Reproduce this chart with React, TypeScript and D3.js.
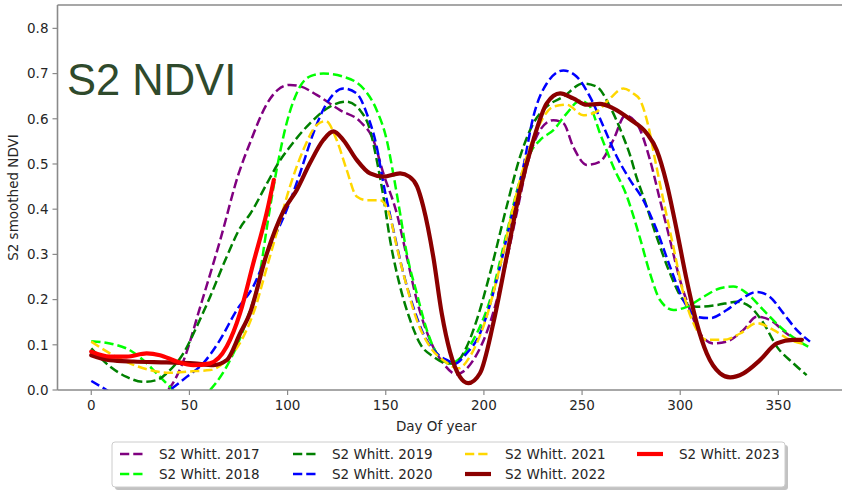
import React from "react";
import * as d3 from "d3";

// ---- data (day of year, smoothed NDVI) ----
const xTicks = [0, 50, 100, 150, 200, 250, 300, 350];
const yTicks = [0.0, 0.1, 0.2, 0.3, 0.4, 0.5, 0.6, 0.7, 0.8];

const s2017: [number, number][] = [
  [30, -0.04], [36, -0.01], [40.3, 0.007], [47.1, 0.066], [55.5, 0.184], [65.7, 0.332], [75.1, 0.479],
  [80.8, 0.546], [89.6, 0.634], [95, 0.664], [101.2, 0.675], [107, 0.671], [114.8, 0.653], [126.7, 0.619],
  [136.9, 0.594], [143.7, 0.553], [148.8, 0.479], [155.6, 0.391], [160.7, 0.295], [165.8, 0.199],
  [172.5, 0.111], [179.3, 0.059], [186, 0.035], [194.6, 0.066], [203.1, 0.148], [210, 0.258],
  [216.7, 0.391], [221.8, 0.494], [228.6, 0.575], [235.4, 0.597], [240.5, 0.59], [245.5, 0.538],
  [252.4, 0.498], [259.1, 0.505], [265.9, 0.553], [272, 0.607], [277.8, 0.59], [284.6, 0.509],
  [289.7, 0.42], [294.8, 0.332], [299.9, 0.243], [305, 0.177], [310.1, 0.125], [316.9, 0.103],
  [323.7, 0.107], [332.2, 0.133], [339, 0.162], [345.7, 0.155], [354.2, 0.125], [362.7, 0.103],
];
const s2018: [number, number][] = [
  [0, 0.108], [9.5, 0.103], [19.7, 0.088], [26.5, 0.066], [33.3, 0.037], [40.1, 0.007], [50, -0.03],
  [60.5, 0.0], [70.7, 0.066], [79.2, 0.155], [85.9, 0.258], [89.5, 0.361], [94.4, 0.487], [99.5, 0.59],
  [106.3, 0.671], [112, 0.695], [118.2, 0.7], [128.4, 0.693], [138.6, 0.667], [145.4, 0.619],
  [150.5, 0.553], [153.8, 0.479], [157.3, 0.391], [160.7, 0.302], [165.8, 0.214], [170.9, 0.133],
  [176, 0.081], [182.7, 0.059], [194.6, 0.111], [203.1, 0.199], [211.6, 0.347], [218.4, 0.465],
  [223.5, 0.524], [228.6, 0.553], [235.4, 0.575], [242.2, 0.612], [249, 0.64], [254, 0.627],
  [259.1, 0.568], [265.9, 0.494], [272.7, 0.43], [279.5, 0.336], [284.6, 0.258], [289.7, 0.199],
  [296.5, 0.177], [303.3, 0.184], [311.8, 0.206], [320.3, 0.225], [327.1, 0.229], [333.9, 0.214],
  [342.3, 0.177], [350.8, 0.14], [359.3, 0.111], [365.2, 0.096],
];
const s2019: [number, number][] = [
  [0, 0.092], [9.5, 0.052], [18, 0.029], [26.5, 0.018], [33.3, 0.022], [40.1, 0.044], [46.9, 0.081],
  [53.7, 0.14], [60.5, 0.206], [69, 0.295], [76, 0.36], [81, 0.39], [89.5, 0.457], [95, 0.5],
  [101.2, 0.538], [111.4, 0.59], [121.6, 0.627], [130.1, 0.638], [136.9, 0.619], [142, 0.575],
  [145.4, 0.509], [148.8, 0.428], [152.2, 0.332], [157.3, 0.229], [162.4, 0.155], [167.4, 0.103],
  [174.2, 0.074], [181, 0.059], [185, 0.058], [190, 0.085], [196, 0.15], [203.1, 0.258], [211.6, 0.406],
  [218.4, 0.516], [225.2, 0.59], [232, 0.627], [240.5, 0.649], [250.6, 0.678], [257.5, 0.671],
  [264.2, 0.627], [271, 0.56], [274.4, 0.52], [277.8, 0.47], [281.2, 0.428], [288, 0.339],
  [294.8, 0.258], [301.6, 0.199], [308.4, 0.184], [318.6, 0.188], [328.8, 0.195], [335.6, 0.184],
  [342.4, 0.148], [349.2, 0.096], [357.6, 0.059], [364.4, 0.033],
];
const s2020: [number, number][] = [
  [0, 0.02], [7.8, 0.0], [20, -0.035], [30, -0.03], [40, 0.0], [48.6, 0.029], [57, 0.059], [65.6, 0.111],
  [74.1, 0.177], [82.5, 0.229], [91, 0.317], [99.5, 0.398], [106.3, 0.479], [113.1, 0.568],
  [119.9, 0.634], [128.4, 0.667], [135.2, 0.656], [140.3, 0.612], [145.4, 0.538], [148.8, 0.457],
  [153.9, 0.354], [159, 0.258], [164, 0.184], [169.1, 0.125], [176, 0.081], [182.7, 0.063],
  [185, 0.058], [191, 0.08], [198, 0.125], [206.5, 0.243], [213.3, 0.369], [220.1, 0.494],
  [225.2, 0.605], [232, 0.678], [240.5, 0.707], [247.3, 0.693], [254, 0.649], [260.9, 0.583],
  [267.7, 0.516], [274.4, 0.465], [281.2, 0.42], [288, 0.354], [294.8, 0.273], [301.6, 0.199],
  [308.4, 0.162], [315.2, 0.159], [323.7, 0.177], [330.5, 0.199], [339, 0.217], [345.7, 0.206],
  [352.5, 0.17], [359.3, 0.133], [366.1, 0.107],
];
const s2021: [number, number][] = [
  [0, 0.107], [9.5, 0.081], [19.7, 0.059], [29.9, 0.044], [40.1, 0.038], [50.3, 0.041], [60.5, 0.044],
  [69, 0.066], [77.5, 0.118], [84.3, 0.192], [87.6, 0.243], [94.4, 0.347], [101.2, 0.45], [108, 0.531],
  [114.8, 0.586], [119.5, 0.595], [125, 0.553], [130.1, 0.487], [135.2, 0.428], [140.3, 0.42],
  [147.1, 0.42], [152.2, 0.383], [155.6, 0.317], [160.7, 0.229], [165.8, 0.155], [172.5, 0.096],
  [179.3, 0.066], [187, 0.048], [193, 0.075], [199.7, 0.14], [208.2, 0.273], [215, 0.406],
  [221.8, 0.516], [228.6, 0.59], [235.4, 0.627], [242.2, 0.631], [250.6, 0.608], [257.5, 0.616],
  [264.2, 0.645], [271, 0.667], [276.1, 0.656], [279.5, 0.642], [283.8, 0.583], [287.2, 0.509],
  [291.4, 0.42], [296.5, 0.317], [301.6, 0.214], [306.7, 0.148], [313.5, 0.111], [322, 0.111],
  [330.5, 0.125], [339, 0.148], [347.4, 0.133], [355.9, 0.111], [364.4, 0.1],
];
const s2022: [number, number][] = [
  [0, 0.077], [9.5, 0.066], [21.4, 0.063], [38.4, 0.061], [52, 0.059], [62.2, 0.055], [69, 0.066],
  [75.8, 0.125], [80.8, 0.17], [89.3, 0.3], [97.8, 0.395], [104.6, 0.442], [111.4, 0.502],
  [118.2, 0.553], [123.3, 0.572], [128.4, 0.553], [135.2, 0.509], [142, 0.479], [148.8, 0.472],
  [157.3, 0.479], [162, 0.472], [166, 0.45], [169.1, 0.406], [174.2, 0.295], [178.5, 0.17],
  [182.7, 0.085], [187.8, 0.029], [192, 0.015], [198, 0.037], [204.8, 0.148], [211.6, 0.295],
  [218.4, 0.442], [225.2, 0.553], [232, 0.634], [238.8, 0.656], [245.5, 0.645], [252.4, 0.631],
  [259.1, 0.633], [265.9, 0.623], [274.4, 0.599], [282.9, 0.568], [288, 0.531], [293.1, 0.457],
  [298.2, 0.354], [303.3, 0.243], [308.4, 0.148], [313.5, 0.081], [320.3, 0.037], [325.4, 0.028],
  [332.2, 0.037], [340.6, 0.066], [349.2, 0.103], [357.6, 0.111], [362, 0.111],
];
const s2023: [number, number][] = [
  [0, 0.085], [9.5, 0.074], [18, 0.074], [28.2, 0.081], [35, 0.077], [43.5, 0.063], [52, 0.055],
  [60.5, 0.059], [69, 0.096], [75.8, 0.17], [82.5, 0.28], [89.3, 0.391], [93, 0.465],
];

const seriesNames = ["S2 Whitt. 2017", "S2 Whitt. 2018", "S2 Whitt. 2019", "S2 Whitt. 2020", "S2 Whitt. 2021", "S2 Whitt. 2022", "S2 Whitt. 2023"];
const seriesData = [s2017, s2018, s2019, s2020, s2021, s2022, s2023];
const seriesColors = ["#800080", "#00ff00", "#008000", "#0000ff", "#ffd700", "#8b0000", "#ff0000"];
const seriesDashed = [true, true, true, true, true, false, false];

const W = 842;
const H = 491;
const left = 57.5;
const right = 842;
const top = 5;
const bottom = 390;

export default function App() {
  const x = d3.scaleLinear().domain([-17.2, 382.4]).range([left, right]);
  const y = d3.scaleLinear().domain([0, 0.8517]).range([bottom, top]);
  const line = d3
    .line<[number, number]>()
    .x((d) => x(d[0]))
    .y((d) => y(d[1]))
    .curve(d3.curveMonotoneX);

  const textColor = "#262626";
  const spine = "#8a8a8a";
  const font = "'DejaVu Sans', sans-serif";

  // legend layout
  const legCols = [120, 293, 465, 637];
  const legTextX = [159, 332, 505, 679];
  const legRows = [454, 474];
  const legendOrder = [0, 1, 2, 3, 4, 5, 6];

  return (
    <svg width={W} height={H} style={{ position: "absolute", left: 0, top: 0, background: "#fff" }}>
      <defs>
        <clipPath id="plotClip">
          <rect x={left} y={top} width={right - left} height={bottom - top} />
        </clipPath>
      </defs>
      <rect x={0} y={0} width={W} height={H} fill="#fff" />

      {/* title */}
      <text x={67} y={95} fontFamily="'Liberation Sans', Arial, sans-serif" fontSize={43.5} fill="#2f4a2c">
        S2 NDVI
      </text>

      {/* series */}
      <g clipPath="url(#plotClip)">
        {seriesData.map((d, i) => (
          <path
            key={seriesNames[i]}
            d={line(d) || ""}
            fill="none"
            stroke={seriesColors[i]}
            strokeWidth={seriesDashed[i] ? 2.5 : 4.2}
            strokeDasharray={seriesDashed[i] ? "9.25,4" : undefined}
            strokeLinecap={seriesDashed[i] ? "butt" : "round"}
            strokeLinejoin="round"
          />
        ))}
      </g>

      {/* spines */}
      <line x1={left} x2={left} y1={top} y2={bottom} stroke={spine} strokeWidth={1.6} />
      <line x1={left} x2={right} y1={bottom} y2={bottom} stroke={spine} strokeWidth={1.6} />
      <line x1={left} x2={right} y1={top} y2={top} stroke={spine} strokeWidth={1.6} />

      {/* y ticks */}
      {yTicks.map((t) => (
        <g key={"y" + t}>
          <line x1={left - 5} x2={left} y1={y(t)} y2={y(t)} stroke={spine} strokeWidth={1.2} />
          <text
            x={left - 9}
            y={y(t)}
            dy="0.36em"
            textAnchor="end"
            fontFamily={font}
            fontSize={13.5}
            fill={textColor}
          >
            {t.toFixed(1)}
          </text>
        </g>
      ))}

      {/* x ticks */}
      {xTicks.map((t) => (
        <g key={"x" + t}>
          <line x1={x(t)} x2={x(t)} y1={bottom} y2={bottom + 5} stroke={spine} strokeWidth={1.2} />
          <text x={x(t)} y={bottom + 20} textAnchor="middle" fontFamily={font} fontSize={13.5} fill={textColor}>
            {t}
          </text>
        </g>
      ))}

      {/* axis labels */}
      <text x={(left + 815) / 2} y={431} textAnchor="middle" fontFamily={font} fontSize={13.5} fill={textColor}>
        Day Of year
      </text>
      <text
        transform={`translate(18,${(top + bottom) / 2}) rotate(-90)`}
        textAnchor="middle"
        fontFamily={font}
        fontSize={13.5}
        fill={textColor}
      >
        S2 smoothed NDVI
      </text>

      {/* legend */}
      <rect x={115} y={445} width={673} height={45} rx={3} fill="#9a9a9a" opacity={0.6} />
      <rect x={112} y={442} width={673} height={45} rx={3} fill="#fff" stroke="#cccccc" strokeWidth={1} />
      {legendOrder.map((i, k) => {
        const col = Math.floor(k / 2);
        const row = k % 2;
        const cy = legRows[row];
        return (
          <g key={"leg" + i}>
            <line
              x1={legCols[col]}
              x2={legCols[col] + 26}
              y1={cy}
              y2={cy}
              stroke={seriesColors[i]}
              strokeWidth={seriesDashed[i] ? 2.5 : 4.2}
              strokeDasharray={seriesDashed[i] ? "9.25,4" : undefined}
            />
            <text x={legTextX[col]} y={cy} dy="0.36em" fontFamily={font} fontSize={13.5} fill={textColor}>
              {seriesNames[i]}
            </text>
          </g>
        );
      })}
    </svg>
  );
}
